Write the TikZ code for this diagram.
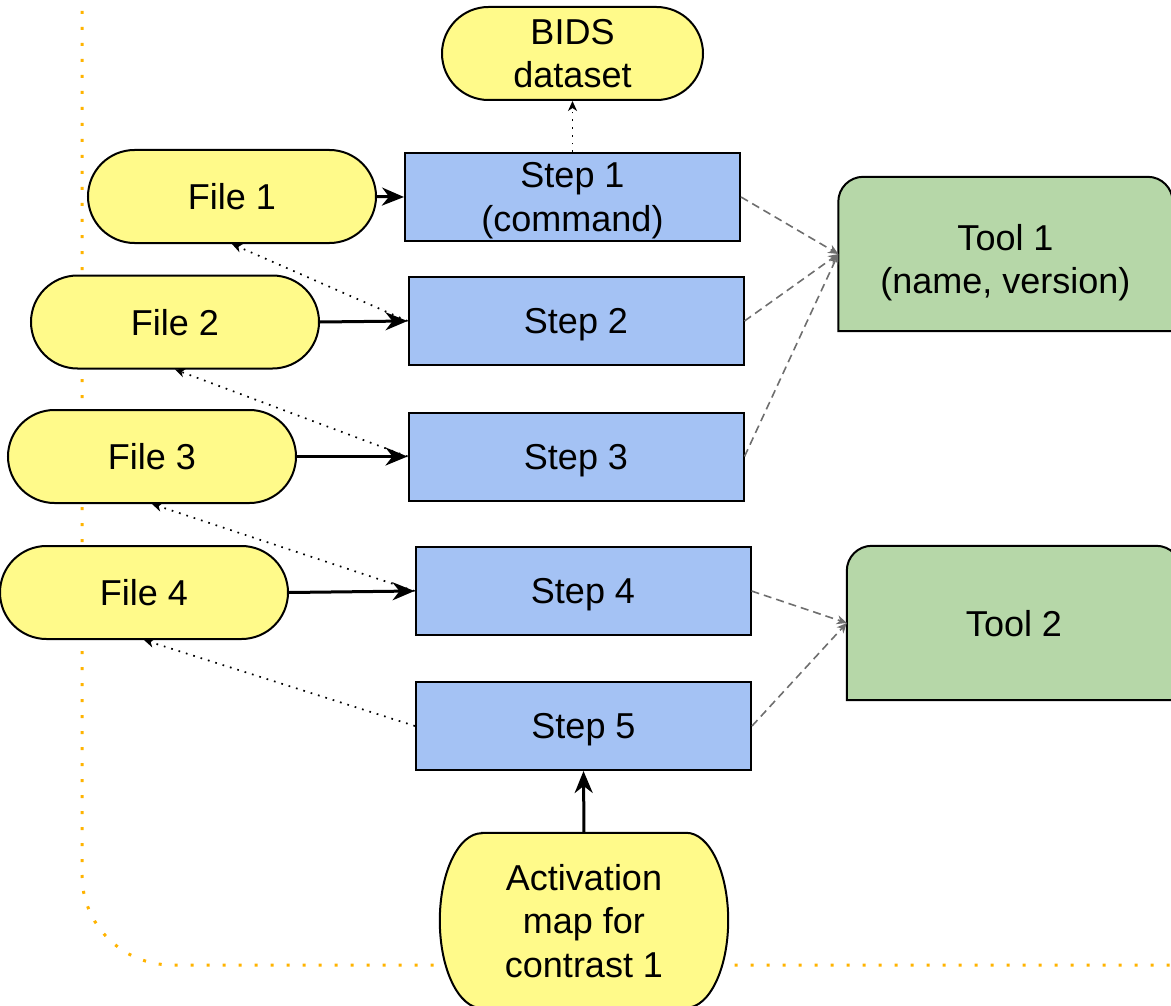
\documentclass[tikz,border=0pt]{standalone}
\usepackage{fontspec}
\setmainfont{Liberation Sans}
\usetikzlibrary{shapes.misc,arrows.meta,backgrounds}
\definecolor{fileyellow}{RGB}{255,250,138}
\definecolor{stepblue}{RGB}{164,194,244}
\definecolor{toolgreen}{RGB}{182,215,168}
\definecolor{borderorange}{RGB}{255,179,0}
\definecolor{dashgray}{RGB}{110,110,110}
% a line whose descenders do not count for centring
\newcommand\nd[1]{\raisebox{0pt}[\height][0pt]{#1}}
\newcommand\ndlow[1]{\raisebox{-5pt}[\height][0pt]{#1}}
\begin{document}
\begin{tikzpicture}[x=1pt,y=-1pt,
  txt/.style={font=\fontsize{36}{43.5}\selectfont, align=center, inner sep=0pt},
  filenode/.style={txt, rounded rectangle, draw=black, line width=2pt, fill=fileyellow,
    minimum width=288pt, minimum height=93pt},
  stepbox/.style={txt, rectangle, draw=black, line width=2pt, fill=stepblue,
    minimum width=335pt, minimum height=88pt},
  toolbox/.style={txt, rectangle, minimum width=334pt, minimum height=154pt},
  toolshape/.style={draw=black, line width=2pt, fill=toolgreen},
  flow/.style={line width=3pt, -{Stealth[length=22pt,width=18pt,inset=7pt]}},
  hint/.style={line width=1.7pt, dash pattern=on 1.7pt off 6pt, -{Stealth[length=10pt,width=9pt,inset=3pt]}},
  uses/.style={line width=1.6pt, draw=dashgray, dash pattern=on 8pt off 5pt, -{Stealth[length=10pt,width=9pt,inset=3pt]}, color=dashgray},
  boundary/.style={draw=borderorange, line width=3pt, dash pattern=on 3pt off 13pt, rounded corners=90pt}
]
\useasboundingbox (0,0) rectangle (1171,1006);
\clip (0,0) rectangle (1171,1006);

% nodes
\node[filenode] (bids) at (572.5,53.5) [minimum width=261pt] {\nd{BIDS}\\\nd{dataset}};
\node[filenode] (f1) at (232,196.5) {\nd{File 1}};
\node[filenode] (f2) at (175,322) {\nd{File 2}};
\node[filenode] (f3) at (152,456.5) {\nd{File 3}};
\node[filenode] (f4) at (144,592.5) {\nd{File 4}};

\node[stepbox] (s1) at (572.5,197) {\nd{Step 1}\\\nd{(command)}};
\node[stepbox] (s2) at (576,321) {\nd{Step 2}};
\node[stepbox] (s3) at (576,456.5) {\nd{Step 3}};
\node[stepbox] (s4) at (583,591) {\nd{Step 4}};
\node[stepbox] (s5) at (583.5,726) {\nd{Step 5}};

\node[toolbox] (t1) at (1005.5,254) {\ndlow{Tool 1}\\\ndlow{(name, version)}};
\node[toolbox] (t2) at (1014,623) {\nd{Tool 2}};

\node[txt, rectangle, minimum width=288pt, minimum height=175pt] (act) at (584,920.5)
  {\nd{Activation}\\\nd{map for}\\\nd{contrast 1}};

% background shapes
\begin{scope}[on background layer]
  \draw[boundary] (82,-5) -- (82,965) -- (1185,965);
  \draw[toolshape] (t1.south west) -- ([yshift=-25pt]t1.north west) arc(180:90:25pt)
    -- ([xshift=-25pt]t1.north east) arc(90:0:25pt) -- (t1.south east) -- cycle;
  \draw[toolshape] (t2.south west) -- ([yshift=-25pt]t2.north west) arc(180:90:25pt)
    -- ([xshift=-25pt]t2.north east) arc(90:0:25pt) -- (t2.south east) -- cycle;
  \draw[draw=black, line width=2pt, fill=fileyellow]
    ([xshift=42pt]act.north west) -- ([xshift=-42pt]act.north east)
    arc(90:-90:42pt and 87.5pt) -- ([xshift=42pt]act.south west)
    arc(270:90:42pt and 87.5pt) -- cycle;
\end{scope}

% solid flows
\draw[flow] (f1.east) -- (s1.west);
\draw[flow] (f2.east) -- (s2.west);
\draw[flow] (f3.east) -- (s3.west);
\draw[flow] (f4.east) -- (s4.west);
\draw[flow] (act.north) -- (s5.south);

% dotted
\draw[hint] (s1.north) -- (bids.south);
\draw[hint] (s2.west) -- (f1.south);
\draw[hint] (s3.west) -- (f2.south);
\draw[hint] (s4.west) -- (f3.south);
\draw[hint] (s5.west) -- (f4.south);

% dashed
\draw[uses] (s1.east) -- (t1.west);
\draw[uses] (s2.east) -- (t1.west);
\draw[uses] (s3.east) -- (t1.west);
\draw[uses] (s4.east) -- (t2.west);
\draw[uses] (s5.east) -- (t2.west);
\end{tikzpicture}
\end{document}
